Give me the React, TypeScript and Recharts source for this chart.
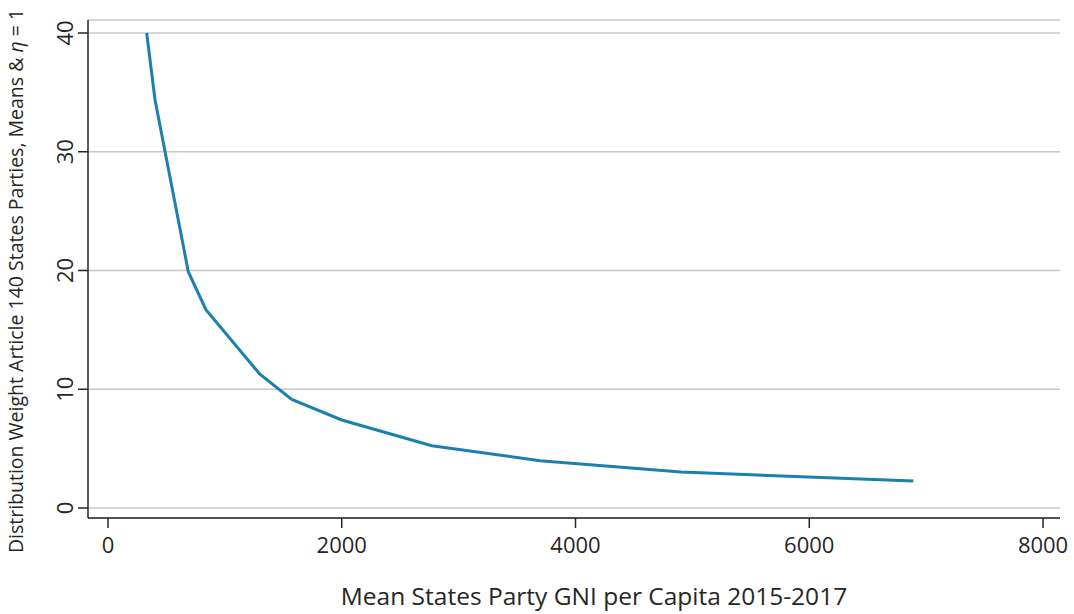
import { LineChart, Line, XAxis, YAxis, CartesianGrid, Label } from "recharts"

const gniPerCapita = [331, 402, 687, 838, 1300, 1572, 2000, 2770, 3696, 4902, 6890]
const distributionWeight = [40, 34.4, 19.9, 16.7, 11.26, 9.15, 7.41, 5.25, 3.98, 3.03, 2.27]
const xTicks = [0, 2000, 4000, 6000, 8000]
const yTicks = [0, 10, 20, 30, 40]

const FONT = "'Open Sans', sans-serif"
const INK = "#262626"

const data = gniPerCapita.map((x, i) => ({ x, y: distributionWeight[i] }))

const XTick = ({ x, payload }: any) => (
  <text x={x} y={553} textAnchor="middle" fontFamily={FONT} fontSize={22} fill={INK}>
    {payload.value}
  </text>
)

const YTick = ({ y, payload }: any) => (
  <text
    x={0}
    y={0}
    textAnchor="middle"
    fontFamily={FONT}
    fontSize={22}
    fill={INK}
    transform={`translate(73, ${y}) rotate(-90)`}
  >
    {payload.value}
  </text>
)

const XTitle = () => (
  <text x={594} y={605} textAnchor="middle" fontFamily={FONT} fontSize={24.5} fill={INK}>
    Mean States Party GNI per Capita 2015-2017
  </text>
)

const YTitle = () => (
  <text
    x={0}
    y={0}
    textAnchor="middle"
    fontFamily={FONT}
    fontSize={19.5}
    fill={INK}
    transform="translate(23, 281) rotate(-90)"
  >
    Distribution Weight Article 140 States Parties, Means &amp; <tspan fontStyle="italic">η</tspan> = 1
  </text>
)

export default function App() {
  return (
    <div style={{ position: "absolute", left: 0, top: 0, width: 1074, height: 614, background: "#fff" }}>
      <LineChart width={1074} height={614} data={data} margin={{ top: 20, right: 14, left: 0, bottom: 0 }}>
        <CartesianGrid horizontal vertical={false} stroke="#c8c8c8" strokeWidth={1.5} />
        <XAxis
          dataKey="x"
          type="number"
          domain={[-171, 8145]}
          allowDataOverflow
          ticks={xTicks}
          height={96}
          tickSize={10}
          tick={<XTick />}
          axisLine={{ stroke: INK, strokeWidth: 1.5 }}
          tickLine={{ stroke: INK, strokeWidth: 1.5 }}
        >
          <Label content={<XTitle />} />
        </XAxis>
        <YAxis
          type="number"
          domain={[-0.842, 41.095]}
          allowDataOverflow
          ticks={yTicks}
          width={88}
          tickSize={10}
          tick={<YTick />}
          axisLine={{ stroke: INK, strokeWidth: 1.5 }}
          tickLine={{ stroke: INK, strokeWidth: 1.5 }}
        >
          <Label content={<YTitle />} />
        </YAxis>
        <Line
          type="linear"
          dataKey="y"
          stroke="#1b80ad"
          strokeWidth={3}
          dot={false}
          isAnimationActive={false}
        />
      </LineChart>
    </div>
  )
}
